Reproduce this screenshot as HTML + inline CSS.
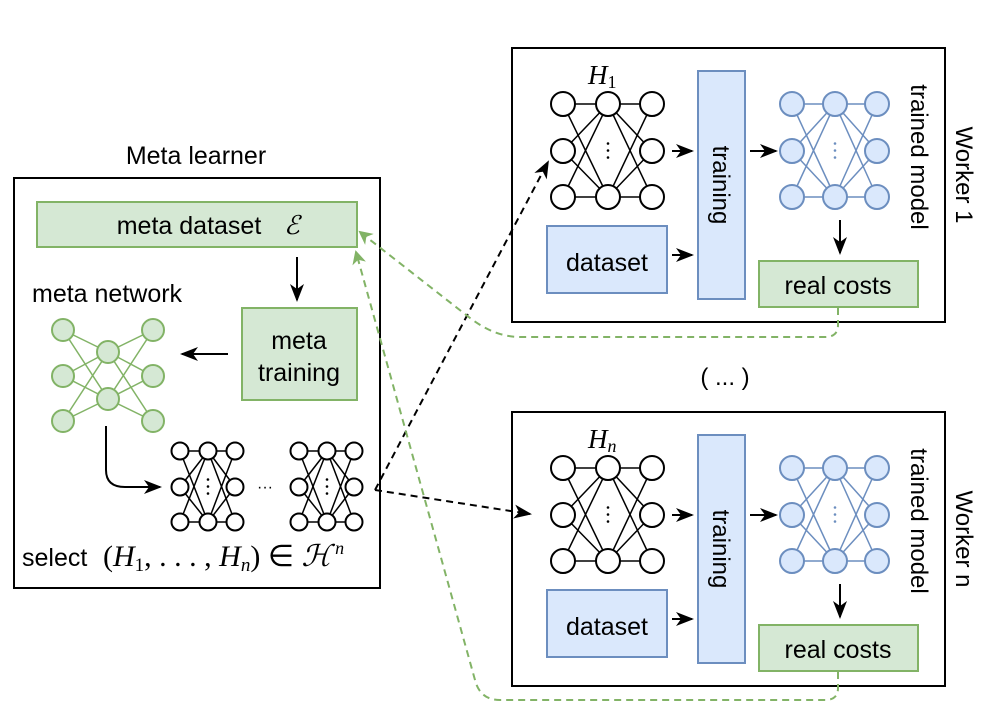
<!DOCTYPE html>
<html><head><meta charset="utf-8"><style>
body{margin:0;background:#fff}
svg{display:block;font-family:"Liberation Sans",sans-serif}
.m{font-family:"Liberation Serif",serif;font-style:italic}
.r{font-family:"Liberation Serif",serif}
</style></head><body>
<svg id="s" width="999" height="726" viewBox="0 0 999 726">
<defs>
<marker id="ag" markerWidth="14" markerHeight="14" refX="12" refY="7" orient="auto" markerUnits="userSpaceOnUse"><path d="M0,0 L14,7 L0,14 L4,7z" fill="#82b366"/></marker>
<marker id="ab2" markerWidth="18" markerHeight="14" refX="16" refY="7" orient="auto" markerUnits="userSpaceOnUse"><path d="M0,0 L18,7 L0,14 L5,7z" fill="#000"/></marker>
</defs>
<g id="g"></g>
<text x="196" y="164" font-size="25" text-anchor="middle">Meta learner</text>
<rect x="14" y="178" width="366" height="410" fill="none" stroke="#000" stroke-width="2"/>
<rect x="37" y="202" width="320" height="45" fill="#d5e8d4" stroke="#82b366" stroke-width="2"/>
<text x="189" y="234" font-size="25" text-anchor="middle">meta dataset</text>
<text x="284" y="234" font-size="26" class="m">ℰ</text>
<rect x="242" y="308" width="115" height="92" fill="#d5e8d4" stroke="#82b366" stroke-width="2"/>
<text x="299" y="349" font-size="25" text-anchor="middle">meta</text>
<text x="299" y="381" font-size="25" text-anchor="middle">training</text>
<text x="32" y="302" font-size="25">meta network</text>
<line x1="297" y1="257" x2="297" y2="300" stroke="#000" stroke-width="2" marker-end="url(#ab2)"/>
<line x1="228" y1="354" x2="182" y2="354" stroke="#000" stroke-width="2" marker-end="url(#ab2)"/>
<path d="M106,426 L106,470 Q106,487 125,487 L160,487" fill="none" stroke="#000" stroke-width="2" marker-end="url(#ab2)"/>
<text x="265" y="492" font-size="16" text-anchor="middle">···</text>
<text x="22" y="566" font-size="25">select</text>
<text x="103" y="566" font-size="30" class="r">(<tspan class="m">H</tspan><tspan font-size="19" dy="5">1</tspan><tspan dy="-5">, . . . , </tspan><tspan class="m">H</tspan><tspan class="m" font-size="19" dy="5">n</tspan><tspan dy="-5">) ∈ </tspan><tspan class="m">ℋ</tspan><tspan class="m" font-size="18" dx="4" dy="-12">n</tspan></text>
<!-- Worker 1 -->
<rect x="512" y="48" width="433" height="274" fill="none" stroke="#000" stroke-width="2"/>
<text x="588" y="84" font-size="27" class="m">H<tspan font-size="18" font-style="normal" dy="4">1</tspan></text>
<rect x="698" y="71" width="47" height="228" fill="#dae8fc" stroke="#6c8ebf" stroke-width="2"/>
<text transform="translate(713,185) rotate(90)" font-size="24" text-anchor="middle">training</text>
<rect x="547" y="226" width="120" height="67" fill="#dae8fc" stroke="#6c8ebf" stroke-width="2"/>
<text x="607" y="271" font-size="25" text-anchor="middle">dataset</text>
<rect x="759" y="261" width="159" height="46" fill="#d5e8d4" stroke="#82b366" stroke-width="2"/>
<text x="838" y="294" font-size="25" text-anchor="middle">real costs</text>
<text transform="translate(911,157) rotate(90)" font-size="24" text-anchor="middle">trained model</text>
<text transform="translate(956,175) rotate(90)" font-size="24" text-anchor="middle">Worker 1</text>
<line x1="672" y1="151" x2="692" y2="151" stroke="#000" stroke-width="2" marker-end="url(#ab2)"/>
<line x1="672" y1="255" x2="692" y2="255" stroke="#000" stroke-width="2" marker-end="url(#ab2)"/>
<line x1="750" y1="151" x2="776" y2="151" stroke="#000" stroke-width="2" marker-end="url(#ab2)"/>
<line x1="840" y1="220" x2="840" y2="253" stroke="#000" stroke-width="2" marker-end="url(#ab2)"/>
<!-- Worker n -->
<text x="725" y="385" font-size="24" text-anchor="middle">( ... )</text>
<rect x="512" y="412" width="433" height="274" fill="none" stroke="#000" stroke-width="2"/>
<text x="588" y="448" font-size="27" class="m">H<tspan font-size="18" dy="4">n</tspan></text>
<rect x="698" y="435" width="47" height="228" fill="#dae8fc" stroke="#6c8ebf" stroke-width="2"/>
<text transform="translate(713,549) rotate(90)" font-size="24" text-anchor="middle">training</text>
<rect x="547" y="590" width="120" height="67" fill="#dae8fc" stroke="#6c8ebf" stroke-width="2"/>
<text x="607" y="635" font-size="25" text-anchor="middle">dataset</text>
<rect x="759" y="625" width="159" height="46" fill="#d5e8d4" stroke="#82b366" stroke-width="2"/>
<text x="838" y="658" font-size="25" text-anchor="middle">real costs</text>
<text transform="translate(911,521) rotate(90)" font-size="24" text-anchor="middle">trained model</text>
<text transform="translate(956,539) rotate(90)" font-size="24" text-anchor="middle">Worker n</text>
<line x1="672" y1="515" x2="692" y2="515" stroke="#000" stroke-width="2" marker-end="url(#ab2)"/>
<line x1="672" y1="619" x2="692" y2="619" stroke="#000" stroke-width="2" marker-end="url(#ab2)"/>
<line x1="750" y1="515" x2="776" y2="515" stroke="#000" stroke-width="2" marker-end="url(#ab2)"/>
<line x1="840" y1="584" x2="840" y2="617" stroke="#000" stroke-width="2" marker-end="url(#ab2)"/>
<!-- connectors -->
<path d="M375,490 L548,162" fill="none" stroke="#000" stroke-width="2" stroke-dasharray="7,5" marker-end="url(#ab2)"/>
<path d="M375,490 L530,514" fill="none" stroke="#000" stroke-width="2" stroke-dasharray="7,5" marker-end="url(#ab2)"/>
<path d="M838,308 L838,325 Q838,337 825,337 L520,337 Q495,337 470,318 L360,232" fill="none" stroke="#82b366" stroke-width="2" stroke-dasharray="7,5" marker-end="url(#ag)"/>
<path d="M838,672 L838,688 Q838,700 825,700 L500,700 Q480,700 475,680 L356,252" fill="none" stroke="#82b366" stroke-width="2" stroke-dasharray="7,5" marker-end="url(#ag)"/>
</svg>
<script>
var g=document.getElementById('g'),NS='http://www.w3.org/2000/svg';
function el(t,a){var e=document.createElementNS(NS,t);for(var k in a)e.setAttribute(k,a[k]);g.appendChild(e);return e;}
function net(xs,y1s,y2s,y3s,r,stroke,fill,sw,dots){
 var cols=[y1s,y2s,y3s];
 for(var c=0;c<2;c++)for(var i=0;i<cols[c].length;i++)for(var j=0;j<cols[c+1].length;j++)
  el('line',{x1:xs[c],y1:cols[c][i],x2:xs[c+1],y2:cols[c+1][j],stroke:stroke,'stroke-width':sw});
 for(var c=0;c<3;c++)for(var i=0;i<cols[c].length;i++)
  el('circle',{cx:xs[c],cy:cols[c][i],r:r,fill:fill,stroke:stroke,'stroke-width':2});
 if(dots){for(var k=-1;k<=1;k++)el('circle',{cx:xs[1],cy:(cols[1][0]+cols[1][1])/2+k*7,r:1.3,fill:stroke});}
}
net([63,108,153],[330,376,421],[352,399],[330,376,421],11,'#82b366','#d5e8d4',1.5,false);
net([180,208,235],[451,487,522],[451,522],[451,487,522],8.5,'#000','#fff',1.5,true);
net([299,327,354],[451,487,522],[451,522],[451,487,522],8.5,'#000','#fff',1.5,true);
[0,364].forEach(function(o){
 net([563,608,652],[104+o,151+o,197+o],[104+o,197+o],[104+o,151+o,197+o],12,'#000','#fff',1.5,true);
 net([792,835,877],[104+o,151+o,197+o],[104+o,197+o],[104+o,151+o,197+o],12,'#6c8ebf','#dae8fc',1.5,true);
});
</script>
</body></html>
